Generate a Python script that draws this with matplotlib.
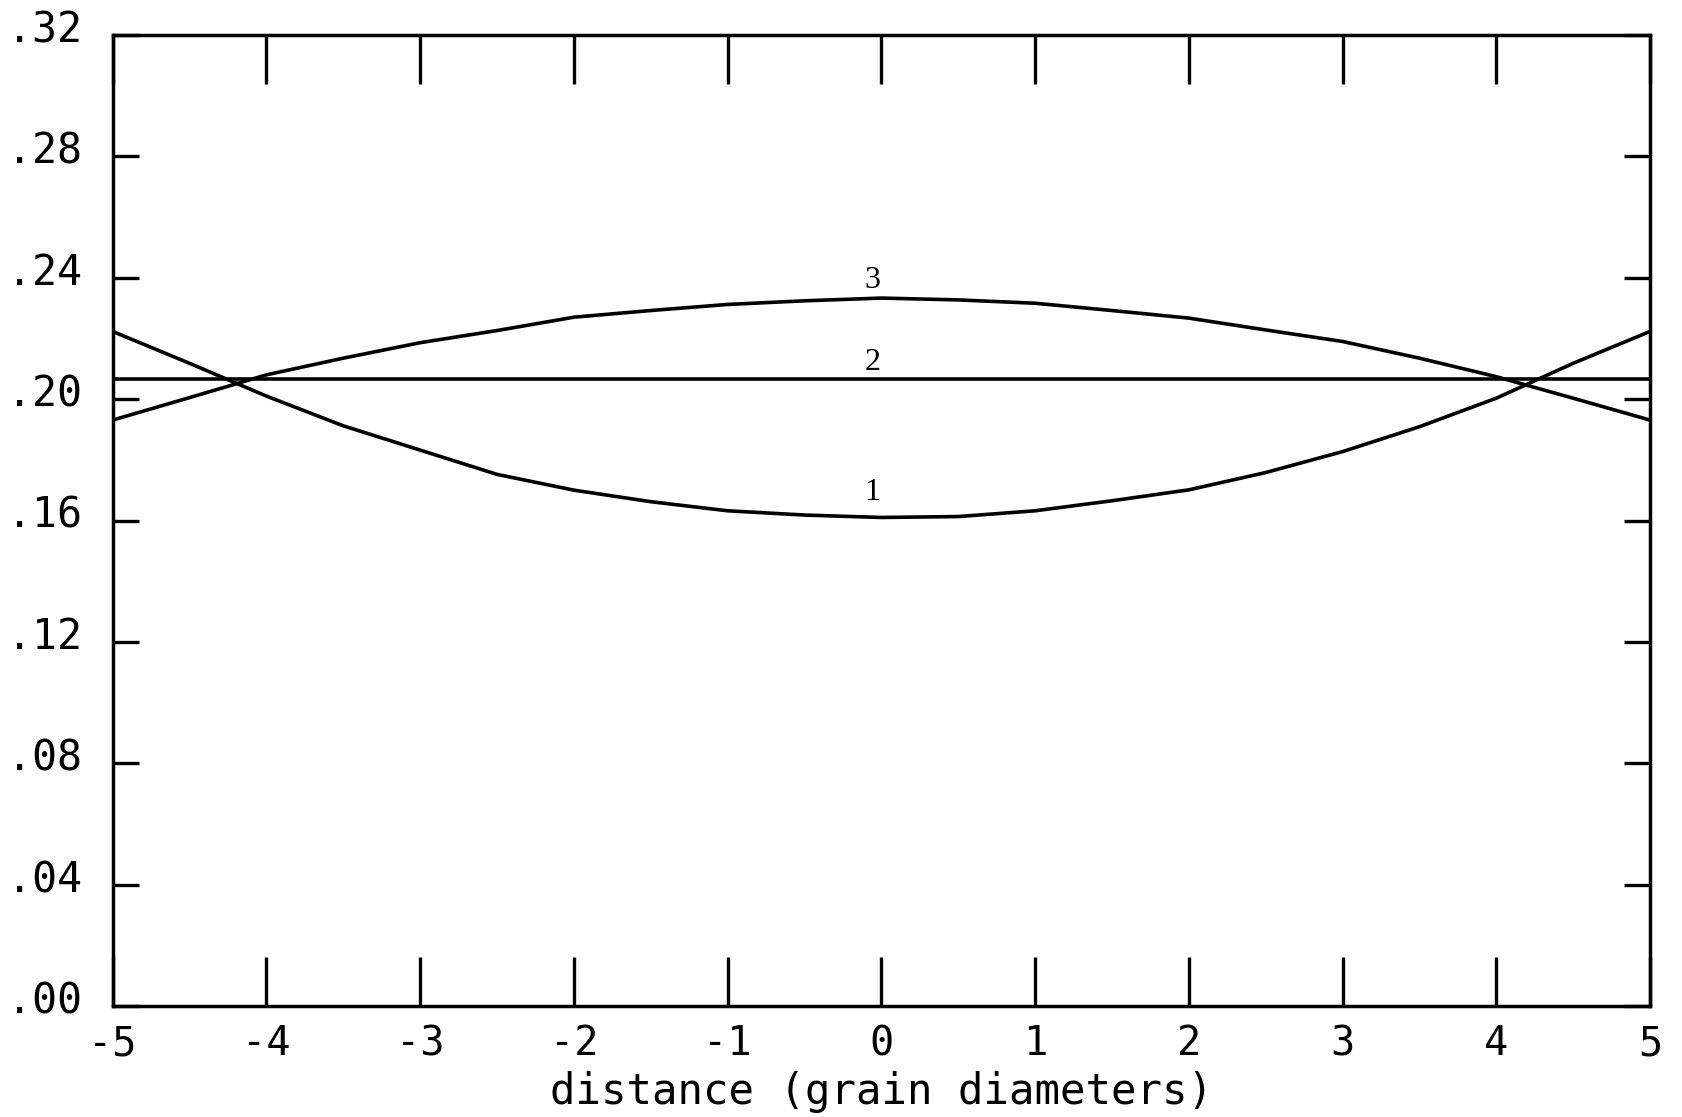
import numpy as np
import matplotlib
matplotlib.use('Agg')
import matplotlib.pyplot as plt
from matplotlib.transforms import ScaledTranslation

# distance in grain diameters
x = [-5, -4.5, -4, -3.5, -3, -2.5, -2, -1.5, -1, -0.5, 0,
     0.5, 1, 1.5, 2, 2.5, 3, 3.5, 4, 4.5, 5]

krivulja1 = [0.2223, 0.2118, 0.2010, 0.1912, 0.1832, 0.1752, 0.1700, 0.1662, 0.1632, 0.1618, 0.1610,
             0.1613, 0.1632, 0.1665, 0.1701, 0.1758, 0.1827, 0.1909, 0.2003, 0.2118, 0.2223]
krivulja2 = [0.2067] * len(x)
krivulja3 = [0.1931, 0.2005, 0.2080, 0.2135, 0.2186, 0.2226, 0.2270, 0.2292, 0.2312, 0.2324, 0.2333,
             0.2327, 0.2316, 0.2292, 0.2267, 0.2228, 0.2190, 0.2135, 0.2074, 0.2003, 0.1931]

x_ticks = [-5, -4, -3, -2, -1, 0, 1, 2, 3, 4, 5]
y_ticks = [0.00, 0.04, 0.08, 0.12, 0.16, 0.20, 0.24, 0.28, 0.32]

oznake = ['1', '2', '3']
oznake_x = -0.06
oznake_y = [0.1668, 0.2096, 0.2367]

mono = 'DejaVu Sans Mono'

fig = plt.figure(figsize=(16.83, 11.17), dpi=100)
ax = fig.add_axes([112.7/1683, 1 - 1006/1117, (1650-112.7)/1683, (1006-35)/1117])

lw = 2.6
ax.plot(x, krivulja1, color='black', lw=lw)
ax.plot(x, krivulja2, color='black', lw=lw)
ax.plot(x, krivulja3, color='black', lw=lw)

for t, yy in zip(oznake, oznake_y):
    ax.text(oznake_x, yy, t, ha='center', va='baseline', fontsize=23,
            family='Liberation Serif', color='black')

ax.set_xlim(-5, 5)
ax.set_ylim(0, 0.32)

ax.set_xticks(x_ticks)
ax.set_xticklabels([str(v) for v in x_ticks], family=mono, fontsize=29)
ax.set_yticks(y_ticks)
ax.set_yticklabels([f"{v:.2f}"[1:] for v in y_ticks], family=mono, fontsize=30)

ax.tick_params(axis='x', direction='in', length=35, width=2.4, top=True, bottom=True, pad=13)
ax.tick_params(axis='y', direction='in', length=19, width=2.4, left=True, right=True, pad=22)

for lab in ax.get_yticklabels():
    lab.set_transform(lab.get_transform() + ScaledTranslation(0, 0.09, fig.dpi_scale_trans))

for s in ax.spines.values():
    s.set_linewidth(2.5)

ax.set_xlabel('distance (grain diameters)', family=mono, fontsize=30.5, labelpad=5)

plt.savefig('out.png', dpi=100)
